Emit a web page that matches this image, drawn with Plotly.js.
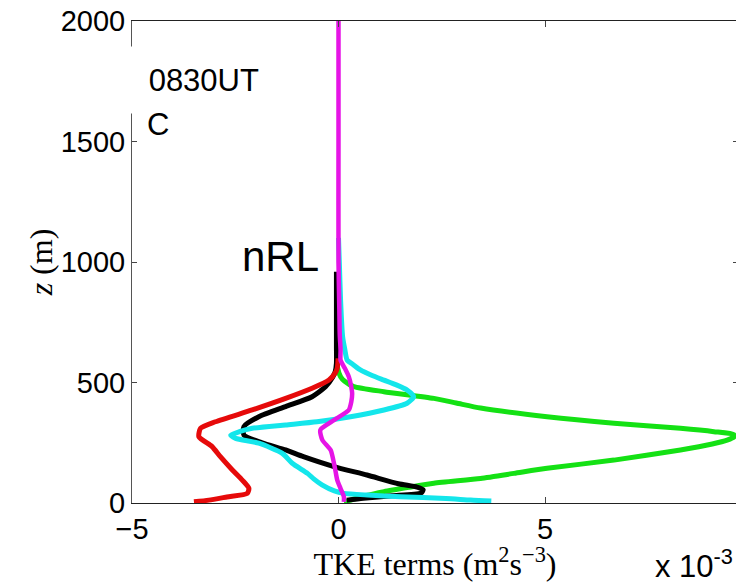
<!DOCTYPE html>
<html>
<head>
<meta charset="utf-8">
<script src="https://cdn.plot.ly/plotly-3.0.1.min.js"></script>
<style>html,body{margin:0;padding:0;background:#fff;overflow:hidden;}#chart{width:738px;height:582px;}</style>
</head>
<body>
<div id="chart"></div>
<script>
// Heights (m) and TKE terms (units of 1e-3 m^2 s^-3)
const redZ = [5, 12, 25, 40, 61, 95, 137, 192, 234, 275, 310, 337, 386, 434, 476, 510, 540, 560, 600];
const redX = [-3.50, -3.14, -2.70, -2.21, -2.17, -2.33, -2.57, -2.86, -3.06, -3.38, -3.34, -2.98, -2.09, -1.28, -0.64, -0.23, -0.08, -0.03, -0.01];

const blackZ = [12, 20, 30, 42, 55, 66, 80, 116, 151, 192, 220, 250, 282, 317, 358, 400, 441, 483, 520, 545, 580, 650, 800, 960];
const blackX = [0.20, 0.60, 1.30, 2.00, 2.05, 1.90, 1.45, 0.69, -0.11, -0.85, -1.28, -1.85, -2.29, -2.29, -1.93, -1.28, -0.64, -0.31, -0.15, -0.08, -0.05, -0.05, -0.05, -0.05];

const cyanZ = [8, 12, 19, 26, 33, 40, 50, 75, 100, 123, 165, 206, 248, 268, 282, 296, 310, 324, 337, 358, 386, 414, 441, 469, 490, 510, 530, 552, 575, 593, 640, 690, 842, 1000, 1100];
const cyanX = [3.70, 3.20, 2.60, 1.50, 0.70, 0.13, -0.10, -0.40, -0.60, -0.75, -1.12, -1.36, -1.93, -2.49, -2.61, -2.40, -2.09, -1.28, -0.52, 0.29, 1.10, 1.66, 1.82, 1.66, 1.40, 1.10, 0.80, 0.53, 0.35, 0.21, 0.15, 0.10, 0.05, 0.02, 0.00];

const greenZ = [5, 12, 30, 47, 65, 82, 102, 123, 144, 178, 220, 245, 261, 275, 284, 296, 310, 331, 358, 394, 415, 434, 462, 483, 505, 524, 560, 600];
const greenX = [0.13, 0.29, 0.65, 1.10, 1.70, 2.31, 3.44, 4.25, 5.05, 6.67, 8.28, 9.05, 9.41, 9.58, 9.57, 9.09, 8.28, 6.67, 5.05, 3.44, 2.85, 2.31, 1.10, 0.37, 0.15, 0.05, -0.02, -0.03];

const magentaZ = [5, 26, 60, 95, 130, 165, 220, 261, 303, 344, 386, 420, 455, 490, 524, 560, 593, 635, 700, 800, 1000, 1500, 2000];
const magentaX = [0.13, 0.13, 0.05, -0.03, -0.07, -0.11, -0.19, -0.39, -0.44, -0.11, 0.25, 0.31, 0.33, 0.30, 0.25, 0.15, 0.05, 0.05, 0.03, 0.02, 0.00, 0.00, 0.00];

const xTicks = [-5, 0, 5];
const yTicks = [0, 500, 1000, 1500, 2000];

function line(x, y, color, w) {
  return {x: x, y: y, type: 'scatter', mode: 'lines', line: {color: color, width: w, shape: 'spline', smoothing: 0.6}, hoverinfo: 'skip', showlegend: false};
}

const traces = [
  line(greenX, greenZ, 'rgb(20,225,20)', 5),
  line(blackX, blackZ, '#000000', 5),
  line(cyanX, cyanZ, 'rgb(20,230,235)', 5),
  line(redX, redZ, 'rgb(230,10,10)', 5),
  line(magentaX, magentaZ, 'rgb(230,20,230)', 4.5)
];

const W = 738, L = 132, PW = W - L;
const layout = {
  width: W, height: 582,
  margin: {l: L, r: 0, t: 21, b: 79},
  paper_bgcolor: '#fff', plot_bgcolor: '#fff',
  showlegend: false,
  xaxis: {
    range: [-5, -5 + PW / 41.3], tickvals: xTicks, ticktext: xTicks.map(v => v < 0 ? '\u2212' + Math.abs(v) : String(v)),
    ticks: 'inside', ticklen: 6, tickcolor: '#444', showline: true, linecolor: '#222', linewidth: 1, mirror: 'ticks',
    showgrid: false, zeroline: false,
    tickfont: {family: 'Liberation Sans, Arial, sans-serif', size: 29, color: '#000'},
    title: {text: 'TKE terms (m<sup>2</sup>s<sup>\u22123</sup>)', font: {family: 'Liberation Serif, serif', size: 32, color: '#000'}}
  },
  yaxis: {
    range: [0, 2000], tickvals: yTicks, ticktext: yTicks.map(String),
    ticks: 'inside', ticklen: 5, tickcolor: '#444', showline: true, linecolor: '#555', linewidth: 1, mirror: 'ticks',
    showgrid: false, zeroline: false,
    tickfont: {family: 'Liberation Sans, Arial, sans-serif', size: 29, color: '#000'},
    title: {text: '<i>z</i> (m)', font: {family: 'Liberation Serif, serif', size: 32, color: '#000'}}
  },
  annotations: [
    {xref: 'paper', yref: 'paper', x: (126 - L) / PW, y: (503 - 46) / 482, xanchor: 'left', yanchor: 'top',
     text: '0830UT', showarrow: false, bgcolor: '#fff', borderpad: 2, width: 130, height: 62, align: 'right', valign: 'middle',
     font: {family: 'Liberation Sans, Arial, sans-serif', size: 31, color: '#000'}},
    {xref: 'paper', yref: 'paper', x: (145 - L) / PW, y: (503 - 124) / 482, xanchor: 'left', yanchor: 'middle',
     text: 'C', showarrow: false, font: {family: 'Liberation Sans, Arial, sans-serif', size: 31, color: '#000'}},
    {xref: 'paper', yref: 'paper', x: (240 - L) / PW, y: (503 - 256) / 482, xanchor: 'left', yanchor: 'middle',
     text: 'nRL', showarrow: false, font: {family: 'Liberation Sans, Arial, sans-serif', size: 42, color: '#000'}},
    {xref: 'paper', yref: 'paper', x: (653 - L) / PW, y: (503 - 586) / 482, xanchor: 'left', yanchor: 'bottom',
     text: 'x 10<sup>-3</sup>', showarrow: false, font: {family: 'Liberation Sans, Arial, sans-serif', size: 31, color: '#000'}}
  ]
};

Plotly.newPlot('chart', traces, layout, {displayModeBar: false, staticPlot: true});
</script>
</body>
</html>
